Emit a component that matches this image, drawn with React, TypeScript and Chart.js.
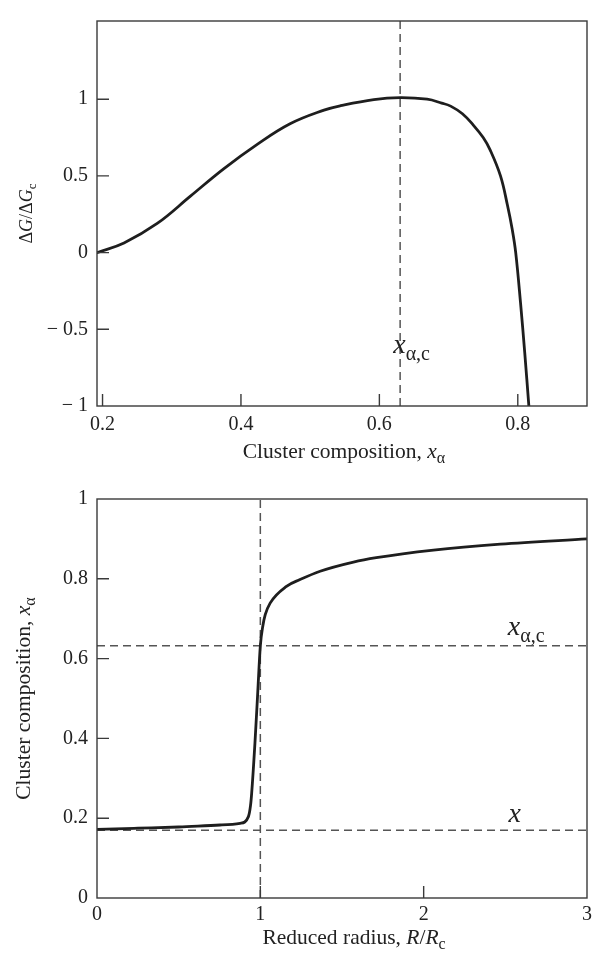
import React, { useEffect, useRef } from "react";
import { Chart, registerables } from "chart.js";
Chart.register(...registerables);

// ---------- Top panel: ΔG/ΔGc vs cluster composition ----------
const topComposition = [0.192, 0.231, 0.279, 0.327, 0.375, 0.423, 0.471, 0.52, 0.544, 0.592, 0.63, 0.669, 0.69, 0.703, 0.72, 0.736, 0.75, 0.76, 0.775, 0.785, 0.792, 0.797, 0.804, 0.81, 0.816];
const topDeltaG = [0.0, 0.063, 0.19, 0.368, 0.546, 0.704, 0.84, 0.929, 0.958, 0.998, 1.01, 1.0, 0.975, 0.955, 0.905, 0.83, 0.75, 0.67, 0.5, 0.31, 0.15, 0.0, -0.33, -0.65, -1.0];
const topXTicks = [0.2, 0.4, 0.6, 0.8];
const topYTicks = [-1, -0.5, 0, 0.5, 1];
const topXRange = [0.192, 0.9];
const topYRange = [-1, 1.51];
const criticalComposition = 0.63;

// ---------- Bottom panel: cluster composition vs reduced radius ----------
const reducedRadius = [0, 0.25, 0.5, 0.753, 0.876, 0.927, 0.94, 0.947, 0.967, 0.984, 1.0, 1.015, 1.03, 1.06, 1.16, 1.243, 1.366, 1.57, 1.71, 2.06, 2.47, 3.0];
const clusterComposition = [0.172, 0.175, 0.178, 0.183, 0.187, 0.204, 0.232, 0.263, 0.388, 0.514, 0.632, 0.681, 0.71, 0.739, 0.781, 0.798, 0.819, 0.842, 0.853, 0.872, 0.887, 0.9];
const bottomXTicks = [0, 1, 2, 3];
const bottomYTicks = [0, 0.2, 0.4, 0.6, 0.8, 1];
const bottomXRange = [0, 3];
const bottomYRange = [0, 1];
const criticalRadius = 1;
const criticalClusterComposition = 0.632;
const overallComposition = 0.17;

// ---------- styling ----------
const FONT_FAMILY = '"Liberation Serif", "Times New Roman", Times, serif';
const INK = "#1e1e1e";
const TEXT = "#222222";
const FRAME = "#3a3a3a";
const DASH = "#555555";
const W = 598;
const H = 478;
const TITLE = 21.5;
const TITLE_SUB = 16;

type Seg = { t: string; size: number; italic?: boolean; dy?: number };

const segFont = (s: Seg) => `${s.italic ? "italic " : ""}${s.size}px ${FONT_FAMILY}`;

function drawSegs(ctx: CanvasRenderingContext2D, segs: Seg[], x: number, y: number, align: "left" | "center", rot: number) {
  ctx.save();
  ctx.translate(x, y);
  if (rot) ctx.rotate(rot);
  ctx.textBaseline = "alphabetic";
  ctx.textAlign = "left";
  ctx.fillStyle = TEXT;
  const widths = segs.map((s) => {
    ctx.font = segFont(s);
    return ctx.measureText(s.t).width;
  });
  const total = widths.reduce((a, b) => a + b, 0);
  let cx = align === "center" ? -total / 2 : 0;
  segs.forEach((s, i) => {
    ctx.font = segFont(s);
    ctx.fillText(s.t, cx, s.dy || 0);
    cx += widths[i];
  });
  ctx.restore();
}

const fmtSigned = (v: number) => (v < 0 ? `\u2212 ${Math.abs(v)}` : String(v));

interface Decor {
  xTicks: number[];
  yTicks: number[];
  xTitle: Seg[];
  xTitleDx: number;
  xTitleBaseline: number;
  yTitle: Seg[];
  yTitleBaseline: number;
  notes: { segs: Seg[]; x: number; y: number }[];
}

function decorPlugin(d: Decor) {
  return {
    id: "decor",
    afterDatasetsDraw(chart: any) {
      const { ctx, chartArea: a, scales } = chart;
      const xs = scales.x;
      const ys = scales.y;
      ctx.save();
      ctx.strokeStyle = FRAME;
      ctx.lineWidth = 1.4;
      ctx.strokeRect(a.left, a.top, a.right - a.left, a.bottom - a.top);
      ctx.beginPath();
      d.xTicks.forEach((v) => {
        const p = xs.getPixelForValue(v);
        if (p > a.left + 1 && p < a.right - 1) {
          ctx.moveTo(p, a.bottom);
          ctx.lineTo(p, a.bottom - 12);
        }
      });
      d.yTicks.forEach((v) => {
        const p = ys.getPixelForValue(v);
        if (p > a.top + 1 && p < a.bottom - 1) {
          ctx.moveTo(a.left, p);
          ctx.lineTo(a.left + 12, p);
        }
      });
      ctx.stroke();
      ctx.restore();
    },
    afterDraw(chart: any) {
      const { ctx, chartArea: a, scales } = chart;
      drawSegs(ctx, d.xTitle, (a.left + a.right) / 2 + d.xTitleDx, d.xTitleBaseline, "center", 0);
      drawSegs(ctx, d.yTitle, d.yTitleBaseline, (a.top + a.bottom) / 2, "center", -Math.PI / 2);
      d.notes.forEach((n) =>
        drawSegs(ctx, n.segs, scales.x.getPixelForValue(n.x), scales.y.getPixelForValue(n.y), "left", 0)
      );
    },
  };
}

function linearAxis(range: number[], ticks: number[], fmt: (v: number) => string, fit: { width?: number; height?: number }, padding: number) {
  return {
    type: "linear",
    min: range[0],
    max: range[1],
    grid: { display: false, drawTicks: false },
    border: { display: false },
    ticks: {
      autoSkip: false,
      maxRotation: 0,
      minRotation: 0,
      padding,
      color: TEXT,
      font: { family: FONT_FAMILY, size: 20 },
      callback: (v: any) => fmt(Number(v)),
    },
    afterBuildTicks: (s: any) => {
      s.ticks = ticks.map((value) => ({ value }));
    },
    afterFit: (s: any) => {
      if (fit.width != null) s.width = fit.width;
      if (fit.height != null) s.height = fit.height;
    },
  };
}

const curveBase = {
  borderColor: INK,
  borderWidth: 2.8,
  pointRadius: 0,
  fill: false,
  borderCapStyle: "round",
  borderJoinStyle: "round",
};
const dashStyle = {
  borderColor: DASH,
  borderWidth: 1.5,
  borderDash: [8, 5],
  pointRadius: 0,
  tension: 0,
  fill: false,
};

function topConfig(): any {
  return {
    type: "line",
    data: {
      datasets: [
        { ...curveBase, tension: 0.4, data: topComposition.map((x, i) => ({ x, y: topDeltaG[i] })) },
        {
          ...dashStyle,
          data: [
            { x: criticalComposition, y: topYRange[0] },
            { x: criticalComposition, y: topYRange[1] },
          ],
        },
      ],
    },
    options: {
      animation: false,
      responsive: false,
      maintainAspectRatio: false,
      layout: { padding: { left: 0, right: 11, top: 7, bottom: 0 } },
      plugins: { legend: { display: false }, tooltip: { enabled: false } },
      scales: {
        x: linearAxis(topXRange, topXTicks, (v) => String(v), { height: 72 }, 7),
        y: linearAxis(topYRange, topYTicks, fmtSigned, { width: 97 }, 9),
      },
    },
    plugins: [
      decorPlugin({
        xTicks: topXTicks,
        yTicks: topYTicks,
        xTitle: [
          { t: "Cluster composition, ", size: TITLE },
          { t: "x", size: TITLE, italic: true },
          { t: "\u03b1", size: TITLE_SUB, dy: 5 },
        ],
        xTitleDx: 2,
        xTitleBaseline: 458,
        yTitle: [
          { t: "\u0394", size: 18 },
          { t: "G", size: 18, italic: true },
          { t: "/\u0394", size: 18 },
          { t: "G", size: 18, italic: true },
          { t: "c", size: 13, dy: 4 },
        ],
        yTitleBaseline: 32,
        notes: [
          {
            segs: [
              { t: "x", size: 28, italic: true },
              { t: "\u03b1,c", size: 20, dy: 7 },
            ],
            x: 0.62,
            y: -0.652,
          },
        ],
      }),
    ],
  };
}

function bottomConfig(): any {
  return {
    type: "line",
    data: {
      datasets: [
        { ...curveBase, cubicInterpolationMode: "monotone", data: reducedRadius.map((x, i) => ({ x, y: clusterComposition[i] })) },
        {
          ...dashStyle,
          data: [
            { x: criticalRadius, y: bottomYRange[0] },
            { x: criticalRadius, y: bottomYRange[1] },
          ],
        },
        {
          ...dashStyle,
          data: [
            { x: bottomXRange[0], y: criticalClusterComposition },
            { x: bottomXRange[1], y: criticalClusterComposition },
          ],
        },
        {
          ...dashStyle,
          data: [
            { x: bottomXRange[0], y: overallComposition },
            { x: bottomXRange[1], y: overallComposition },
          ],
        },
      ],
    },
    options: {
      animation: false,
      responsive: false,
      maintainAspectRatio: false,
      layout: { padding: { left: 0, right: 11, top: 21, bottom: 0 } },
      plugins: { legend: { display: false }, tooltip: { enabled: false } },
      scales: {
        x: linearAxis(bottomXRange, bottomXTicks, (v) => String(v), { height: 58 }, 5),
        y: linearAxis(bottomYRange, bottomYTicks, (v) => String(v), { width: 97 }, 9),
      },
    },
    plugins: [
      decorPlugin({
        xTicks: bottomXTicks,
        yTicks: bottomYTicks,
        xTitle: [
          { t: "Reduced radius, ", size: TITLE },
          { t: "R", size: TITLE, italic: true },
          { t: "/", size: TITLE },
          { t: "R", size: TITLE, italic: true },
          { t: "c", size: TITLE_SUB, dy: 5 },
        ],
        xTitleDx: 12,
        xTitleBaseline: 466,
        yTitle: [
          { t: "Cluster composition, ", size: TITLE },
          { t: "x", size: TITLE, italic: true },
          { t: "\u03b1", size: TITLE_SUB, dy: 5 },
        ],
        yTitleBaseline: 30,
        notes: [
          {
            segs: [
              { t: "x", size: 28, italic: true },
              { t: "\u03b1,c", size: 20, dy: 7 },
            ],
            x: 2.515,
            y: 0.659,
          },
          {
            segs: [{ t: "x", size: 28, italic: true }],
            x: 2.52,
            y: 0.191,
          },
        ],
      }),
    ],
  };
}

function Panel({ make }: { make: () => any }) {
  const ref = useRef<HTMLCanvasElement>(null);
  useEffect(() => {
    const chart = new Chart(ref.current as HTMLCanvasElement, make());
    return () => chart.destroy();
  }, [make]);
  return <canvas ref={ref} width={W} height={H} style={{ display: "block", width: W, height: H }} />;
}

export default function App() {
  return (
    <div style={{ position: "absolute", left: 0, top: 0, width: W, height: 956, background: "#ffffff" }}>
      <Panel make={topConfig} />
      <Panel make={bottomConfig} />
    </div>
  );
}
